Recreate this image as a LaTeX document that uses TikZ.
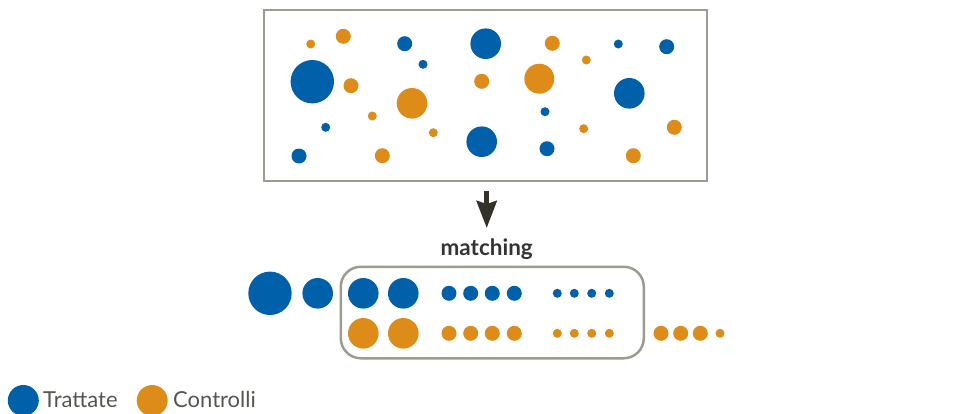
\documentclass[tikz,border=0pt]{standalone}
\usepackage{fontspec}
\setmainfont{Lato}
\usetikzlibrary{arrows.meta}
\definecolor{tblue}{HTML}{0061AA}
\definecolor{torange}{HTML}{DD8C1A}
\definecolor{frame}{HTML}{9B9B8F}
\definecolor{arrowc}{HTML}{33332A}
\definecolor{txt}{HTML}{333333}
\definecolor{legtxt}{HTML}{555550}
\begin{document}
\begin{tikzpicture}[x=1pt,y=-1pt,
  framebox/.style={draw=frame,line width=2.5pt,fill=none,inner sep=0pt},
  bdot/.style={fill=tblue},
  odot/.style={fill=torange},
  lbl/.style={font=\fontsize{22.5}{24}\selectfont\bfseries,text=txt,inner sep=0pt,anchor=base},
  legend/.style={font=\fontsize{22}{24}\selectfont,text=legtxt,inner sep=0pt,anchor=base west}]
\useasboundingbox (0,0) rectangle (978,413);
% top pool
\node[framebox,minimum width=443pt,minimum height=171pt] (pool) at (485.5,95.5) {};
\foreach \x/\y/\r in {310.7/44/4.5, 343.3/36.3/7.5, 351/85.7/7.5, 412/103.3/15.3, 372.3/116/4.5,
  433.3/132.7/4.5, 382.3/155.7/7.5, 481.7/81.3/7.5, 552.3/43.3/7.5, 539.3/78.7/15, 586.3/60/4.5,
  583.7/128.7/4.5, 633.3/155.7/7.5, 674.3/127.3/7.5}
  \fill[odot] (\x,\y) circle (\r pt);
\foreach \x/\y/\r in {312.3/81.7/21.7, 404.7/43.7/7.5, 423/64.3/4.5, 485.7/43.7/15.3, 325.7/127.3/4.5,
  299/156/7.5, 481.7/141.7/15.3, 545/111.7/4.5, 547/148.7/7.5, 618.3/44/4.5, 666.7/46.7/7.5,
  629.3/93.3/15.3}
  \fill[bdot] (\x,\y) circle (\r pt);
% label and arrow
\node[lbl] (match) at (486.7,255.5) {matching};
\coordinate (astart) at (486.7,191);
\coordinate (aend) at (486.7,228);
\draw[arrowc,line width=5pt,-{Stealth[length=27pt,width=20pt,inset=3pt]}] (astart) -- (aend);
% matched group
\node[framebox,rounded corners=20pt,minimum width=303pt,minimum height=91.5pt] (grp) at (492.3,312.5) {};
\foreach \x/\r in {270/21.7, 317.7/15.3, 363.3/15.3, 403.3/15.3, 449/7.5, 470.7/7.5, 492.3/7.5, 514.3/7.5,
  557.3/4.5, 574.3/4.5, 591.7/4.5, 609.3/4.5}
  \fill[bdot] (\x,293.3) circle (\r pt);
\foreach \x/\r in {363.3/15.3, 403.3/15.3, 449/7.5, 470.7/7.5, 492.3/7.5, 514.3/7.5,
  557.3/4.5, 574.3/4.5, 591.7/4.5, 609.3/4.5, 661/7.5, 680.7/7.5, 700.3/7.5, 720/4.5}
  \fill[odot] (\x,333.3) circle (\r pt);
% legend
\fill[bdot] (23.3,400.5) circle (15.5pt);
\node[legend] (ltr) at (43,407.5) {Trattate};
\fill[odot] (152.2,400.5) circle (15.5pt);
\node[legend] (lco) at (173,407.5) {Controlli};
\end{tikzpicture}
\end{document}
